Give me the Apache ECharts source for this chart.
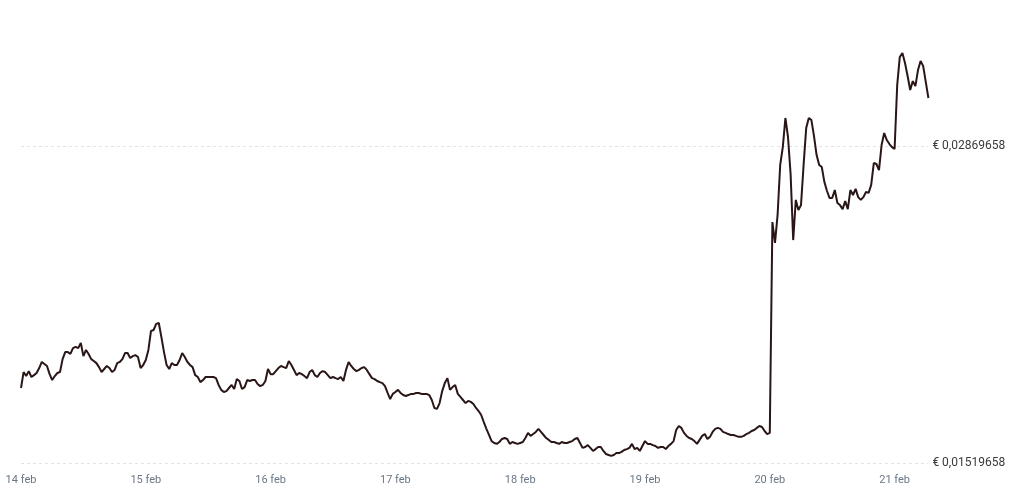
<!DOCTYPE html>
<html>
<head>
<meta charset="utf-8">
<script src="https://cdn.jsdelivr.net/npm/echarts@6/dist/echarts.min.js"></script>
<style>
html,body{margin:0;padding:0;background:#fff;}
#c{width:1024px;height:499px;}
</style>
</head>
<body>
<div id="c"></div>
<script>
// Half-hourly prices (EUR), 14 feb 00:00 → 21 feb 06:30
const startDay = 14;
const monthLabel = 'feb';
const stepMinutes = 30;

const prices = [
0.01839,0.01907,0.01890,0.01911,0.01886,0.01894,0.01903,0.01924,0.01950,0.01941,
0.01933,0.01898,0.01873,0.01890,0.01903,0.01907,0.01962,0.01992,0.01992,0.01984,
0.02009,0.02014,0.02009,0.02031,0.01975,0.02001,0.01984,0.01962,0.01954,0.01945,
0.01928,0.01907,0.01920,0.01933,0.01924,0.01907,0.01916,0.01945,0.01950,0.01962,
0.01988,0.01988,0.01967,0.01975,0.01979,0.01971,0.01924,0.01937,0.01958,0.02001,
0.02082,0.02086,0.02112,0.02116,0.02056,0.01992,0.01937,0.01920,0.01945,0.01937,
0.01937,0.01958,0.01988,0.01971,0.01950,0.01937,0.01928,0.01894,0.01886,0.01864,
0.01873,0.01886,0.01886,0.01886,0.01886,0.01881,0.01852,0.01831,0.01822,0.01826,
0.01839,0.01852,0.01835,0.01877,0.01869,0.01835,0.01843,0.01873,0.01869,0.01873,
0.01873,0.01856,0.01847,0.01852,0.01869,0.01920,0.01898,0.01898,0.01911,0.01924,
0.01933,0.01928,0.01924,0.01954,0.01937,0.01916,0.01894,0.01903,0.01898,0.01890,
0.01881,0.01907,0.01916,0.01894,0.01886,0.01903,0.01911,0.01907,0.01894,0.01881,
0.01886,0.01881,0.01877,0.01886,0.01869,0.01916,0.01950,0.01933,0.01920,0.01911,
0.01916,0.01924,0.01928,0.01916,0.01898,0.01881,0.01877,0.01869,0.01864,0.01860,
0.01847,0.01818,0.01792,0.01814,0.01822,0.01831,0.01818,0.01809,0.01805,0.01809,
0.01814,0.01814,0.01818,0.01818,0.01814,0.01814,0.01814,0.01809,0.01788,0.01754,
0.01750,0.01775,0.01826,0.01860,0.01881,0.01831,0.01843,0.01852,0.01814,0.01801,
0.01788,0.01775,0.01784,0.01780,0.01771,0.01754,0.01741,0.01724,0.01694,0.01665,
0.01639,0.01613,0.01605,0.01601,0.01609,0.01622,0.01626,0.01622,0.01601,0.01609,
0.01605,0.01601,0.01605,0.01609,0.01626,0.01648,0.01635,0.01643,0.01652,0.01665,
0.01652,0.01639,0.01626,0.01618,0.01609,0.01609,0.01605,0.01601,0.01609,0.01605,
0.01605,0.01609,0.01613,0.01622,0.01626,0.01605,0.01584,0.01588,0.01596,0.01584,
0.01571,0.01579,0.01588,0.01588,0.01571,0.01558,0.01554,0.01550,0.01554,0.01562,
0.01562,0.01567,0.01575,0.01579,0.01584,0.01601,0.01579,0.01584,0.01571,0.01592,
0.01613,0.01601,0.01601,0.01596,0.01592,0.01584,0.01588,0.01588,0.01579,0.01592,
0.01601,0.01613,0.01660,0.01677,0.01669,0.01648,0.01635,0.01626,0.01622,0.01613,
0.01601,0.01618,0.01635,0.01643,0.01622,0.01631,0.01652,0.01665,0.01669,0.01665,
0.01652,0.01648,0.01643,0.01639,0.01639,0.01635,0.01631,0.01631,0.01635,0.01643,
0.01648,0.01656,0.01660,0.01669,0.01677,0.01673,0.01656,0.01643,0.01648,0.02546,
0.02457,0.02576,0.02789,0.02865,0.02989,0.02908,0.02750,0.02469,0.02640,0.02597,
0.02618,0.02789,0.02946,0.02989,0.02980,0.02912,0.02831,0.02789,0.02780,0.02716,
0.02678,0.02648,0.02648,0.02682,0.02627,0.02618,0.02601,0.02635,0.02601,0.02682,
0.02661,0.02687,0.02652,0.02640,0.02652,0.02674,0.02670,0.02704,0.02797,0.02793,
0.02767,0.02874,0.02925,0.02895,0.02878,0.02865,0.02857,0.03129,0.03249,0.03266,
0.03223,0.03168,0.03108,0.03146,0.03125,0.03193,0.03232,0.03210,0.03142,0.03074
];

// y-axis reference ticks (two labelled levels)
const yTickMin = 0.01519658;
const yTickStep = 0.013500000001;
const yAxisMax = 0.0344885;

// category labels: "14 feb 00:00", ...
const times = prices.map((_, i) => {
  const mins = i * stepMinutes;
  const day = startDay + Math.floor(mins / 1440);
  const hh = Math.floor((mins % 1440) / 60);
  const mm = mins % 60;
  return day + ' ' + monthLabel + ' ' + String(hh).padStart(2, '0') + ':' + String(mm).padStart(2, '0');
});

const chart = echarts.init(document.getElementById('c'), null, {renderer: 'canvas'});
chart.setOption({
  animation: false,
  backgroundColor: '#ffffff',
  grid: {left: 21, right: 95.6, top: 10, bottom: 36, containLabel: false},
  xAxis: {
    type: 'category',
    data: times,
    boundaryGap: false,
    axisLine: {show: false},
    axisTick: {show: false},
    splitLine: {show: false},
    axisLabel: {
      interval: 47,
      margin: 12,
      color: '#6a7785',
      fontFamily: 'Roboto',
      fontSize: 11,
      formatter: v => v.split(' ').slice(0, 2).join(' ')
    }
  },
  yAxis: {
    type: 'value',
    position: 'right',
    min: yTickMin,
    max: yAxisMax,
    interval: yTickStep,
    axisLine: {show: false},
    axisTick: {show: false},
    splitLine: {show: true, showMinLine: true, showMaxLine: false, lineStyle: {color: '#e2e2e2', type: [3, 3], width: 1}},
    axisLabel: {
      margin: 4,
      color: '#3a3a3a',
      fontFamily: 'Roboto',
      fontSize: 12,
      showMaxLabel: false,
      formatter: v => '€ ' + v.toFixed(8).replace('.', ',')
    }
  },
  series: [{
    type: 'line',
    data: prices,
    showSymbol: false,
    smooth: false,
    lineStyle: {color: '#2a1616', width: 2},
    clip: false
  }]
});
</script>
</body>
</html>
